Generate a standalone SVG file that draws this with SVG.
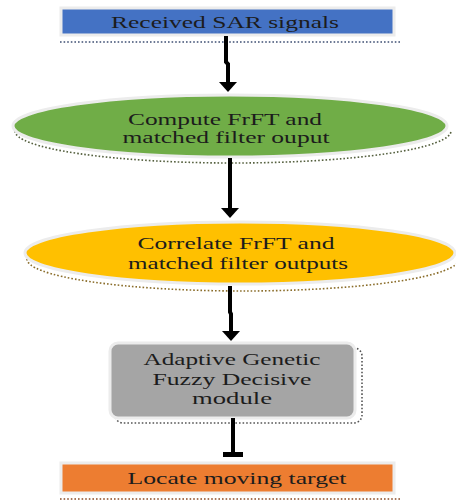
<svg xmlns="http://www.w3.org/2000/svg" width="456" height="502" viewBox="0 0 456 502">
  <defs>
    <style>
      .lbl { font-family: "Liberation Serif", "Times New Roman", serif; font-size: 17px; fill: #1c1c1c; text-anchor: middle; }
      .glow { stroke: #ececec; stroke-width: 3; }
      .shadow { fill: none; stroke-width: 1.6; stroke-dasharray: 1.6 2; }
      .wire { fill: none; stroke: #000; stroke-width: 4; }
    </style>
    <!-- arrowhead starts where the stroke ends -->
    <marker id="head" viewBox="0 0 10 18" refX="0" refY="9" markerWidth="10" markerHeight="18" markerUnits="userSpaceOnUse" orient="auto">
      <path d="M0,0 L10,9 L0,18 Z" fill="#000"/>
    </marker>
  </defs>

  <rect width="456" height="502" fill="#ffffff"/>

  <!-- Step 1: input signals -->
  <g id="received">
    <line x1="60" y1="42" x2="402" y2="42" class="shadow" stroke="#3e4f73"/>
    <rect x="61" y="8" width="333" height="27" fill="#4472c4" class="glow"/>
    <text x="225" y="28" class="lbl" textLength="228" lengthAdjust="spacingAndGlyphs">Received SAR signals</text>
  </g>

  <!-- Step 2: FrFT and matched filter -->
  <g id="compute">
    <path d="M15,131 A218,32 0 0 0 451,131" class="shadow" stroke="#55603f"/>
    <ellipse cx="230" cy="126" rx="217" ry="31" fill="#70ad47" class="glow"/>
    <text x="225" y="125" class="lbl" textLength="194" lengthAdjust="spacingAndGlyphs">Compute FrFT and</text>
    <text x="226" y="143" class="lbl" textLength="207" lengthAdjust="spacingAndGlyphs">matched filter ouput</text>
  </g>

  <!-- Step 3: correlation -->
  <g id="correlate">
    <path d="M27,259 A216,32 0 0 0 459,259" class="shadow" stroke="#8a6d2a"/>
    <ellipse cx="240" cy="253" rx="215" ry="31" fill="#ffc000" class="glow"/>
    <text x="236" y="249" class="lbl" textLength="197" lengthAdjust="spacingAndGlyphs">Correlate FrFT and</text>
    <text x="238" y="269" class="lbl" textLength="220" lengthAdjust="spacingAndGlyphs">matched filter outputs</text>
  </g>

  <!-- Step 4: decision module -->
  <g id="agfd">
    <rect x="115" y="348" width="247" height="75" rx="8" class="shadow" stroke="#555555"/>
    <rect x="110" y="343" width="245" height="75" rx="8" fill="#a5a5a5" class="glow"/>
    <text x="232" y="365" class="lbl" textLength="177" lengthAdjust="spacingAndGlyphs">Adaptive Genetic</text>
    <text x="232" y="385" class="lbl" textLength="159" lengthAdjust="spacingAndGlyphs">Fuzzy Decisive</text>
    <text x="232" y="404" class="lbl" textLength="80" lengthAdjust="spacingAndGlyphs">module</text>
  </g>

  <!-- Step 5: output -->
  <g id="locate">
    <line x1="60" y1="499" x2="402" y2="499" class="shadow" stroke="#8a4a25"/>
    <rect x="61" y="463" width="333" height="30" fill="#ed7d31" class="glow"/>
    <text x="237" y="484" class="lbl" textLength="219" lengthAdjust="spacingAndGlyphs">Locate moving target</text>
  </g>

  <!-- Flow arrows -->
  <g id="connectors">
    <path d="M226,36 L226,62 L228,64 L228,82" class="wire" marker-end="url(#head)"/>
    <path d="M230,158 L230,208" class="wire" marker-end="url(#head)"/>
    <path d="M230,286 L230,312 L231,314 L231,331" class="wire" marker-end="url(#head)"/>
    <path d="M233,418 L233,455" class="wire"/>
    <rect x="223" y="452" width="20" height="5" fill="#000"/>
  </g>
</svg>
